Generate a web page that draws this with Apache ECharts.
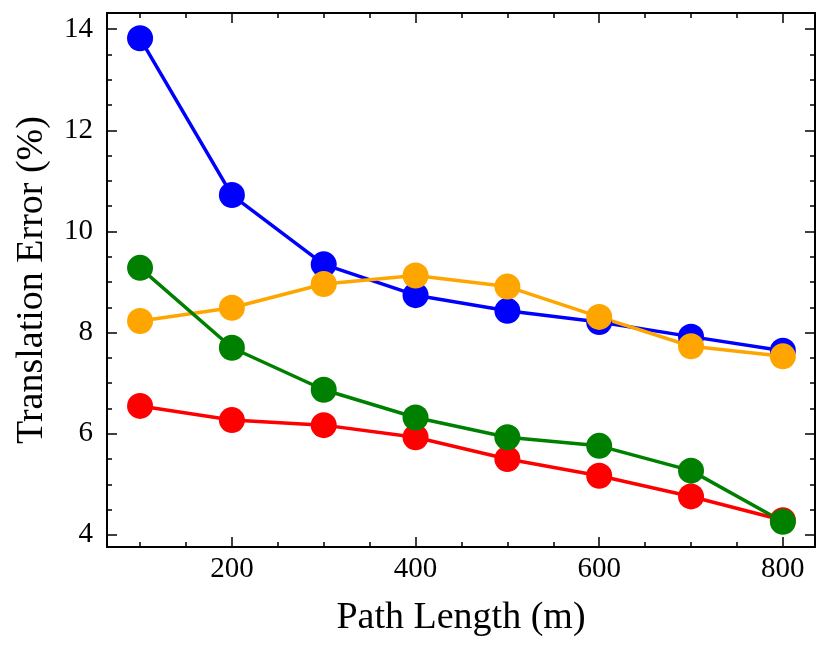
<!DOCTYPE html>
<html>
<head>
<meta charset="utf-8">
<script src="https://cdn.jsdelivr.net/npm/echarts@6/dist/echarts.min.js"></script>
<style>
html, body { margin: 0; padding: 0; background: #fff; }
#main { width: 829px; height: 651px; }
</style>
</head>
<body>
<div id="main"></div>
<script>
// path lengths (m)
var pathLength = [100, 200, 300, 400, 500, 600, 700, 800];

// translation error (%) per method
var blueErr   = [13.82, 10.72, 9.35, 8.74, 8.43, 8.21, 7.92, 7.64];
var orangeErr = [8.23, 8.49, 8.96, 9.13, 8.91, 8.31, 7.73, 7.53];
var redErr    = [6.55, 6.27, 6.17, 5.93, 5.50, 5.17, 4.76, 4.29];
var greenErr  = [9.28, 7.70, 6.87, 6.32, 5.93, 5.76, 5.27, 4.26];

// tick positions
var xMajor = [200, 400, 600, 800];
var xMinor = [100, 150, 200, 250, 300, 350, 400, 450, 500, 550, 600, 650, 700, 750, 800];
var yMajor = [4, 6, 8, 10, 12, 14];
var yMinor = [4, 4.5, 5, 5.5, 6, 6.5, 7, 7.5, 8, 8.5, 9, 9.5, 10, 10.5, 11, 11.5, 12, 12.5, 13, 13.5, 14];

var font = 'Liberation Serif';
var xMin = 64, xMax = 835, yMin = 3.76, yMax = 14.32;

function pairs(ys) {
    return pathLength.map(function (x, i) { return [x, ys[i]]; });
}

function xAx(pos, ticks, len, labels, line) {
    return {
        type: 'value', position: pos, min: xMin, max: xMax,
        splitLine: {show: false},
        axisLine: {show: line, lineStyle: {color: '#000', width: 2}},
        axisTick: {show: true, inside: true, length: len, customValues: ticks,
                   lineStyle: {color: '#000', width: 1.5}},
        axisLabel: {show: labels, customValues: xMajor, color: '#000',
                    fontFamily: font, fontSize: 29, margin: 8}
    };
}
function yAx(pos, ticks, len, labels, line) {
    return {
        type: 'value', position: pos, min: yMin, max: yMax,
        splitLine: {show: false},
        axisLine: {show: line, lineStyle: {color: '#000', width: 2}},
        axisTick: {show: true, inside: true, length: len, customValues: ticks,
                   lineStyle: {color: '#000', width: 1.5}},
        axisLabel: {show: labels, customValues: yMajor, color: '#000',
                    fontFamily: font, fontSize: 29, margin: 14}
    };
}

var xBottom = xAx('bottom', xMajor, 10, true, true);
xBottom.name = 'Path Length (m)';
xBottom.nameLocation = 'middle';
xBottom.nameGap = 52;
xBottom.nameTextStyle = {color: '#000', fontFamily: font, fontSize: 38};

var yLeft = yAx('left', yMajor, 10, true, true);
yLeft.name = 'Translation Error (%)';
yLeft.nameLocation = 'middle';
yLeft.nameGap = 56;
yLeft.nameTextStyle = {color: '#000', fontFamily: font, fontSize: 38};

function line(name, color, ys) {
    return {
        name: name, type: 'line', xAxisIndex: 0, yAxisIndex: 0,
        data: pairs(ys),
        symbol: 'circle', symbolSize: 26,
        itemStyle: {color: color},
        lineStyle: {color: color, width: 3.5},
        animation: false
    };
}

var myChart = echarts.init(document.getElementById('main'));
var option = {
    backgroundColor: '#fff',
    grid: {left: 107, right: 14, top: 13, bottom: 104, containLabel: false},
    xAxis: [
        xBottom,
        xAx('bottom', xMinor, 5, false, false),
        xAx('top', xMajor, 10, false, true),
        xAx('top', xMinor, 5, false, false)
    ],
    yAxis: [
        yLeft,
        yAx('left', yMinor, 5, false, false),
        yAx('right', yMajor, 10, false, true),
        yAx('right', yMinor, 5, false, false)
    ],
    series: [
        line('blue', '#0000ff', blueErr),
        line('orange', '#ffa500', orangeErr),
        line('red', '#ff0000', redErr),
        line('green', '#008000', greenErr)
    ]
};
myChart.setOption(option);
</script>
</body>
</html>
